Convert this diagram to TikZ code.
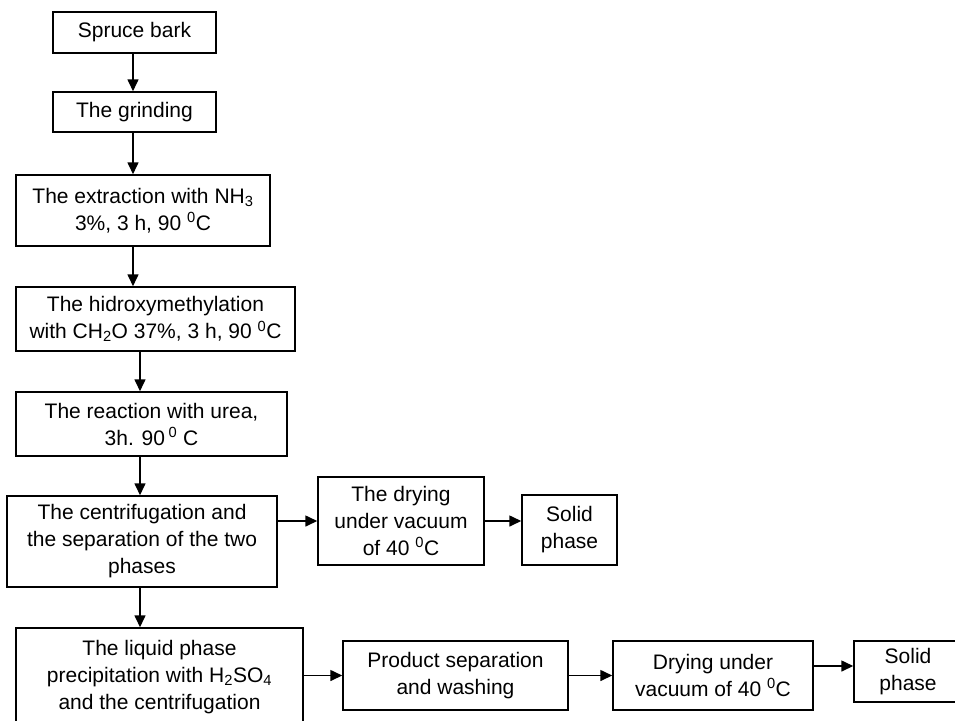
\documentclass[tikz,border=0pt]{standalone}
\usepackage{fontspec}
\setmainfont{Liberation Sans}
\usetikzlibrary{arrows.meta}
\tikzset{
  procbox/.style={draw=black, line width=1.5pt, align=center, inner sep=0pt,
    font=\fontsize{21}{27}\selectfont},
  arr/.style={line width=1.6pt, -{Triangle[length=12pt,width=11pt]}}
}
\begin{document}
\begin{tikzpicture}[x=1pt,y=-1pt]
\useasboundingbox (0,0) rectangle (955,720);
\clip (0,0) rectangle (955,720);
\fill[white] (0,0) rectangle (955,720);
\node[procbox, minimum width=163pt, minimum height=41pt] (spruce) at (134.5,32.5) {Spruce bark};
\node[procbox, minimum width=163pt, minimum height=40pt] (grind) at (134.5,112) {The grinding};
\node[procbox, minimum width=254pt, minimum height=71pt] (extr) at (143,210.5) {The extraction with NH\textsubscript{3}\\3\%, 3 h, 90 \textsuperscript{0}C};
\node[procbox, minimum width=279pt, minimum height=64pt] (hidr) at (155.5,319) {The hidroxymethylation\\with CH\textsubscript{2}O 37\%, 3 h, 90 \textsuperscript{0}C};
\node[procbox, minimum width=271pt, minimum height=64pt] (urea) at (151.5,424) {The reaction with urea,\\3h. 90\,\textsuperscript{0} C};
\node[procbox, minimum width=270pt, minimum height=91pt] (centr) at (142,541.5) {The centrifugation and\\the separation of the two\\phases};
\node[procbox, minimum width=166pt, minimum height=88pt] (dryA) at (401,521) {The drying\\under vacuum\\of 40 \textsuperscript{0}C};
\node[procbox, minimum width=95pt, minimum height=70pt] (solidA) at (569.5,530) {Solid\\phase};
\node[procbox, minimum width=287pt, minimum height=98pt] (liquid) at (159.5,677) {The liquid phase\\precipitation with H\textsubscript{2}SO\textsubscript{4}\\and the centrifugation};
\node[procbox, minimum width=225pt, minimum height=69pt] (prod) at (455.5,675.5) {Product separation\\and washing};
\node[procbox, minimum width=200pt, minimum height=69pt] (dryB) at (713,675.5) {Drying under\\vacuum of 40 \textsuperscript{0}C};
\node[procbox, minimum width=108pt, minimum height=61pt] (solidB) at (908,671.5) {Solid\\phase};
\coordinate (colA) at (133,0);
\coordinate (colB) at (140,0);
\coordinate (sBin) at ([yshift=5.5pt]solidB.west);
\draw[arr] (spruce.south -| colA) -- (grind.north -| colA);
\draw[arr] (grind.south -| colA) -- (extr.north -| colA);
\draw[arr] (extr.south -| colA) -- (hidr.north -| colA);
\draw[arr] (hidr.south -| colB) -- (urea.north -| colB);
\draw[arr] (urea.south -| colB) -- (centr.north -| colB);
\draw[arr] (centr.south -| colB) -- (liquid.north -| colB);
\draw[arr] (centr.east |- dryA.west) -- (dryA.west);
\draw[arr] (dryA.east) -- (dryA.east -| solidA.west);
\draw[arr] (liquid.east |- prod.west) -- (prod.west);
\draw[arr] (prod.east) -- (dryB.west);
\draw[arr] (dryB.east |- sBin) -- (sBin);
\end{tikzpicture}
\end{document}
